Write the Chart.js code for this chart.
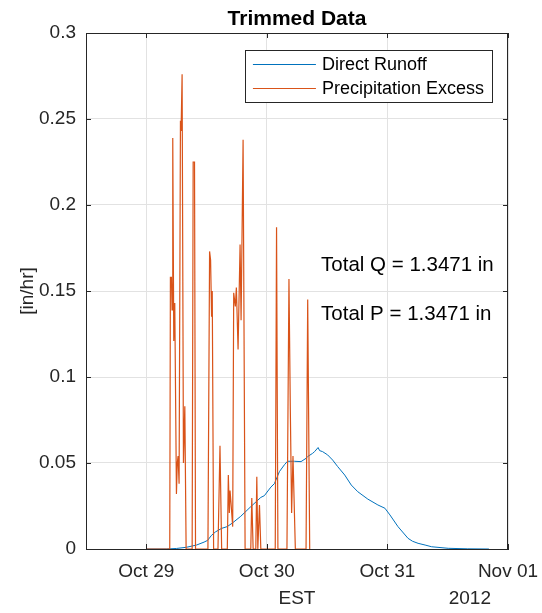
<!DOCTYPE html>
<html>
<head>
<meta charset="utf-8">
<script src="https://cdn.jsdelivr.net/npm/chart.js@4.4.1/dist/chart.umd.min.js"></script>
<style>
    html, body { margin: 0; padding: 0; background: #fff; }
    #wrap { width: 542px; height: 613px; }
</style>
</head>
<body>
<div id="wrap"><canvas id="trimmedChart" width="542" height="613"></canvas></div>
<script>
// hours counted from Oct 28 00:00 EST
const runoffHours = [24, 28, 30, 32, 34, 35.5, 36.2, 37, 37.8, 39, 40.1, 41.1, 42.8, 44.8, 46.8, 47.5, 48.8, 49.5, 50.5, 51.5, 52.1, 53.5, 54.8, 55.8, 56.1, 57.1, 57.5, 58.2, 58.5, 59.1, 60.1, 61.1, 62.1, 63.5, 64.8, 66.1, 68.1, 70.1, 71.5, 72.5, 74.1, 76.1, 77, 78.1, 79.5, 80.8, 84.1, 88, 92.2];
const runoffValues = [0, 0, 0.0003, 0.001, 0.0023, 0.004, 0.005, 0.008, 0.01, 0.012, 0.013, 0.015, 0.019, 0.0246, 0.03, 0.031, 0.036, 0.038, 0.045, 0.049, 0.051, 0.051, 0.0508, 0.0527, 0.0537, 0.0556, 0.0566, 0.059, 0.0572, 0.0566, 0.0547, 0.0517, 0.0479, 0.043, 0.0372, 0.0333, 0.029, 0.0256, 0.0237, 0.0198, 0.013, 0.0062, 0.0045, 0.0033, 0.0023, 0.0013, 0.0004, 0.0001, 0];

const excessHours = [24, 28.67, 28.8, 29.0, 29.13, 29.27, 29.47, 29.67, 30.0, 30.17, 30.33, 30.53, 30.8, 30.93, 31.13, 31.4, 31.67, 31.93,
    33.13, 33.33, 33.6, 33.8,
    36.27, 36.6, 36.8, 37.0, 37.13, 37.4,
    38.27, 38.67, 39.0,
    40.13, 40.33, 40.53, 40.67, 40.87, 41.2, 41.4, 41.73, 41.93, 42.27, 42.67, 42.87, 43.27, 43.67,
    44.8, 45.0, 45.27, 45.8, 46.0, 46.2, 46.53, 46.8,
    49.67, 49.93, 50.2,
    52.0, 52.4, 52.67, 52.93, 53.2, 53.67,
    55.8, 56.13, 56.53];
const excessValues = [0, 0, 0.158, 0.158, 0.139, 0.239, 0.121, 0.143, 0.032, 0.05, 0.054, 0.038, 0.249, 0.243, 0.276, 0.05, 0.083, 0,
    0, 0.225, 0.225, 0,
    0, 0.173, 0.168, 0.135, 0.15, 0,
    0, 0.06, 0,
    0, 0.043, 0.021, 0.034, 0.0265, 0.013, 0.149, 0.141, 0.152, 0.116, 0.177, 0.133, 0.238, 0,
    0, 0.0296, 0, 0, 0.042, 0, 0.0256, 0,
    0, 0.187, 0,
    0, 0.157, 0.081, 0.021, 0.054, 0,
    0, 0.145, 0];

const xTickHours = [24, 48, 72, 96];
const xTickLabels = ['Oct 29', 'Oct 30', 'Oct 31', 'Nov 01'];
const yTicks = [0, 0.05, 0.1, 0.15, 0.2, 0.25, 0.3];
const yTickLabels = ['0', '0.05', '0.1', '0.15', '0.2', '0.25', '0.3'];

const totalsText = ['Total Q = 1.3471 in', 'Total P = 1.3471 in'];
const totalsHour = 58.8;
const totalsY = [0.165, 0.1366];

const FONT = "'Liberation Sans', Arial, Helvetica, sans-serif";
const INK = '#262626';

function toPoints(xs, ys) {
    return xs.map((x, i) => ({ x: x, y: ys[i] }));
}

// MATLAB-ish box: top/right border, inward ticks, legend, text labels
const matlabExtras = {
    id: 'matlabExtras',
    afterDraw(chart) {
        const ctx = chart.ctx;
        const area = chart.chartArea;
        const xs = chart.scales.x;
        const ys = chart.scales.y;

        ctx.save();
        ctx.strokeStyle = INK;
        ctx.lineWidth = 1;
        ctx.beginPath();
        ctx.moveTo(area.left, area.top + 0.5);
        ctx.lineTo(area.right, area.top + 0.5);
        ctx.moveTo(area.right - 0.5, area.top);
        ctx.lineTo(area.right - 0.5, area.bottom);
        const tl = 5;
        xTickHours.forEach(h => {
            const px = Math.round(xs.getPixelForValue(h)) + 0.5;
            ctx.moveTo(px, area.bottom);
            ctx.lineTo(px, area.bottom - tl);
            ctx.moveTo(px, area.top);
            ctx.lineTo(px, area.top + tl);
        });
        yTicks.forEach(v => {
            const py = Math.round(ys.getPixelForValue(v)) + 0.5;
            ctx.moveTo(area.left, py);
            ctx.lineTo(area.left + tl, py);
            ctx.moveTo(area.right, py);
            ctx.lineTo(area.right - tl, py);
        });
        ctx.stroke();

        // title
        ctx.fillStyle = '#000';
        ctx.font = 'bold 21px ' + FONT;
        ctx.textAlign = 'center';
        ctx.textBaseline = 'middle';
        ctx.fillText('Trimmed Data', (area.left + area.right) / 2, 19);

        // year label
        ctx.fillStyle = INK;
        ctx.font = '19px ' + FONT;
        ctx.textAlign = 'right';
        ctx.fillText('2012', area.right - 17, 599);

        // totals
        ctx.fillStyle = '#000';
        ctx.font = '20.5px ' + FONT;
        ctx.textAlign = 'left';
        totalsText.forEach((t, i) => {
            ctx.fillText(t, xs.getPixelForValue(totalsHour), ys.getPixelForValue(totalsY[i]));
        });

        // legend
        const sets = chart.data.datasets;
        ctx.font = '18px ' + FONT;
        const textW = Math.max(...sets.map(d => ctx.measureText(d.label).width));
        const boxRight = area.right - 16;
        const boxTop = area.top + 17;
        const boxW = 8 + 63 + 6 + textW + 8;
        const boxH = 52;
        const boxLeft = boxRight - boxW;
        ctx.fillStyle = '#fff';
        ctx.fillRect(boxLeft, boxTop, boxW, boxH);
        ctx.strokeStyle = INK;
        ctx.strokeRect(Math.round(boxLeft) + 0.5, boxTop + 0.5, Math.round(boxW), boxH);
        sets.forEach((d, i) => {
            const ly = boxTop + 14 + i * 24;
            ctx.strokeStyle = d.borderColor;
            ctx.lineWidth = d.borderWidth;
            ctx.beginPath();
            ctx.moveTo(boxLeft + 8, ly + 0.5);
            ctx.lineTo(boxLeft + 71, ly + 0.5);
            ctx.stroke();
            ctx.fillStyle = '#000';
            ctx.textBaseline = 'middle';
            ctx.fillText(d.label, boxLeft + 77, ly + 1);
        });
        ctx.restore();
    }
};

document.addEventListener('DOMContentLoaded', () => {
    const ctx = document.getElementById('trimmedChart').getContext('2d');

    new Chart(ctx, {
        type: 'line',
        data: {
            datasets: [
                {
                    label: 'Direct Runoff',
                    data: toPoints(runoffHours, runoffValues),
                    borderColor: '#0072BD',
                    borderWidth: 1,
                    order: 1
                },
                {
                    label: 'Precipitation Excess',
                    data: toPoints(excessHours, excessValues),
                    borderColor: '#D95319',
                    borderWidth: 1.2,
                    order: 0
                }
            ]
        },
        options: {
            responsive: false,
            animation: false,
            layout: { padding: { top: 33, right: 34, left: 0, bottom: 0 } },
            elements: {
                point: { radius: 0 },
                line: { tension: 0, fill: false }
            },
            plugins: {
                legend: { display: false },
                title: { display: false },
                tooltip: { enabled: false }
            },
            scales: {
                x: {
                    type: 'linear',
                    min: 12,
                    max: 96,
                    afterBuildTicks: axis => { axis.ticks = xTickHours.map(v => ({ value: v })); },
                    afterFit: axis => {
                        axis.height = 64;
                        axis.paddingLeft = 0;
                        axis.paddingRight = 0;
                    },
                    grid: { color: '#e2e2e2', drawTicks: false },
                    border: { color: INK, width: 1 },
                    ticks: {
                        color: INK,
                        padding: 11,
                        maxRotation: 0,
                        autoSkip: false,
                        font: { family: FONT, size: 19 },
                        callback: v => xTickLabels[xTickHours.indexOf(v)] || ''
                    },
                    title: {
                        display: true,
                        text: 'EST',
                        color: INK,
                        font: { family: FONT, size: 19 },
                        padding: { top: 0, bottom: 3 }
                    }
                },
                y: {
                    min: 0,
                    max: 0.3,
                    afterBuildTicks: axis => { axis.ticks = yTicks.map(v => ({ value: v })); },
                    afterFit: axis => {
                        axis.width = 86;
                        axis.paddingTop = 0;
                        axis.paddingBottom = 0;
                    },
                    grid: { color: '#e2e2e2', drawTicks: false },
                    border: { color: INK, width: 1 },
                    ticks: {
                        color: INK,
                        padding: 10,
                        font: { family: FONT, size: 19 },
                        callback: v => yTickLabels[yTicks.indexOf(v)]
                    },
                    title: {
                        display: true,
                        text: '[in/hr]',
                        color: INK,
                        font: { family: FONT, size: 19 },
                        padding: { top: 16, bottom: 0 }
                    }
                }
            }
        },
        plugins: [matlabExtras]
    });
});
</script>
</body>
</html>
